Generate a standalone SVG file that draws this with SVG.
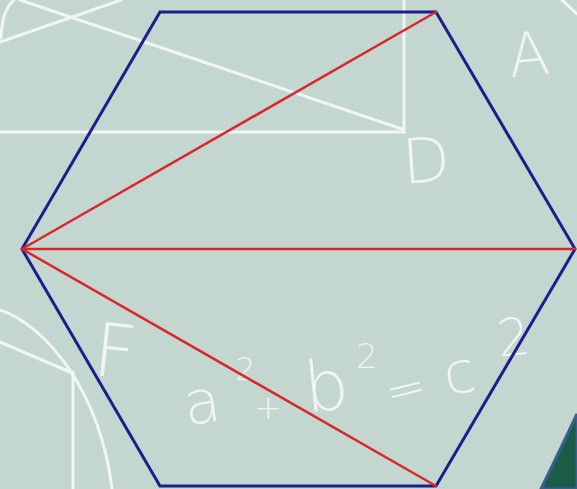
<svg xmlns="http://www.w3.org/2000/svg" width="577" height="489" viewBox="0 0 577 489">
  <style>
    .chalk { fill: none; stroke: #f3f8f6; stroke-width: 3; stroke-linecap: round; opacity: 0.92; }
    .chalktext { fill: #f3f8f6; font-family: "DejaVu Sans", "Liberation Sans", sans-serif; font-weight: 300; opacity: 0.92; }
    .hex { fill: none; stroke: #1c1e8c; stroke-width: 3; stroke-linejoin: miter; }
    .diag { stroke: #d8282c; stroke-width: 2.5; stroke-linecap: round; }
  </style>
  <rect id="background" x="0" y="0" width="577" height="489" fill="#c4d6d0"/>
  <g id="chalk">
    <path class="chalk" d="M 20,0 L 402,129"/>
    <path class="chalk" d="M 0,42 L 121,0"/>
    <path class="chalk" d="M 1,38 Q 2,10 14,0"/>
    <path class="chalk" d="M 404,0 L 404,132 L 0,132"/>
    <path class="chalk" d="M 562,0 L 577,14"/>
    <path class="chalk" d="M 0,310 C 45,325 100,390 112,489"/>
    <path class="chalk" d="M 0,342 L 70,372"/>
    <path class="chalk" d="M 73,372 L 73,489"/>
    <text class="chalktext" x="508" y="75" font-size="60" transform="rotate(-6 530 52)">A</text>
    <text class="chalktext" x="402" y="182" font-size="62" transform="rotate(-4 428 158)">D</text>
    <text class="chalktext" x="94" y="377" font-size="74" transform="rotate(6 115 350)">F</text>
    <g id="equation">
      <text class="chalktext" x="184" y="422" font-size="60" transform="rotate(-8 208 405)">a</text>
      <text class="chalktext" x="235" y="380" font-size="32">2</text>
      <text class="chalktext" x="254" y="419" font-size="34">+</text>
      <text class="chalktext" x="304" y="410" font-size="70" transform="rotate(-6 330 385)">b</text>
      <text class="chalktext" x="356" y="368" font-size="34">2</text>
      <text class="chalktext" x="385" y="404" font-size="48" transform="rotate(-14 409 386)">=</text>
      <text class="chalktext" x="444" y="392" font-size="58" transform="rotate(-10 466 376)">c</text>
      <text class="chalktext" x="497" y="355" font-size="52" transform="rotate(-6 518 336)">2</text>
    </g>
  </g>
  <path id="corner" d="M 577,414 Q 563,444 541,489 L 577,489 Z" fill="#1b5c47" stroke="#3b5e92" stroke-width="3"/>
  <g id="hexagon">
    <polygon class="hex" points="160,12 436,12 575,249 436,486 160,486 22,249"/>
  </g>
  <g id="connectors">
    <line class="diag" x1="22" y1="249" x2="436" y2="12"/>
    <line class="diag" x1="22" y1="249" x2="575" y2="249" stroke-width="3"/>
    <line class="diag" x1="22" y1="249" x2="436" y2="486"/>
  </g>
</svg>
